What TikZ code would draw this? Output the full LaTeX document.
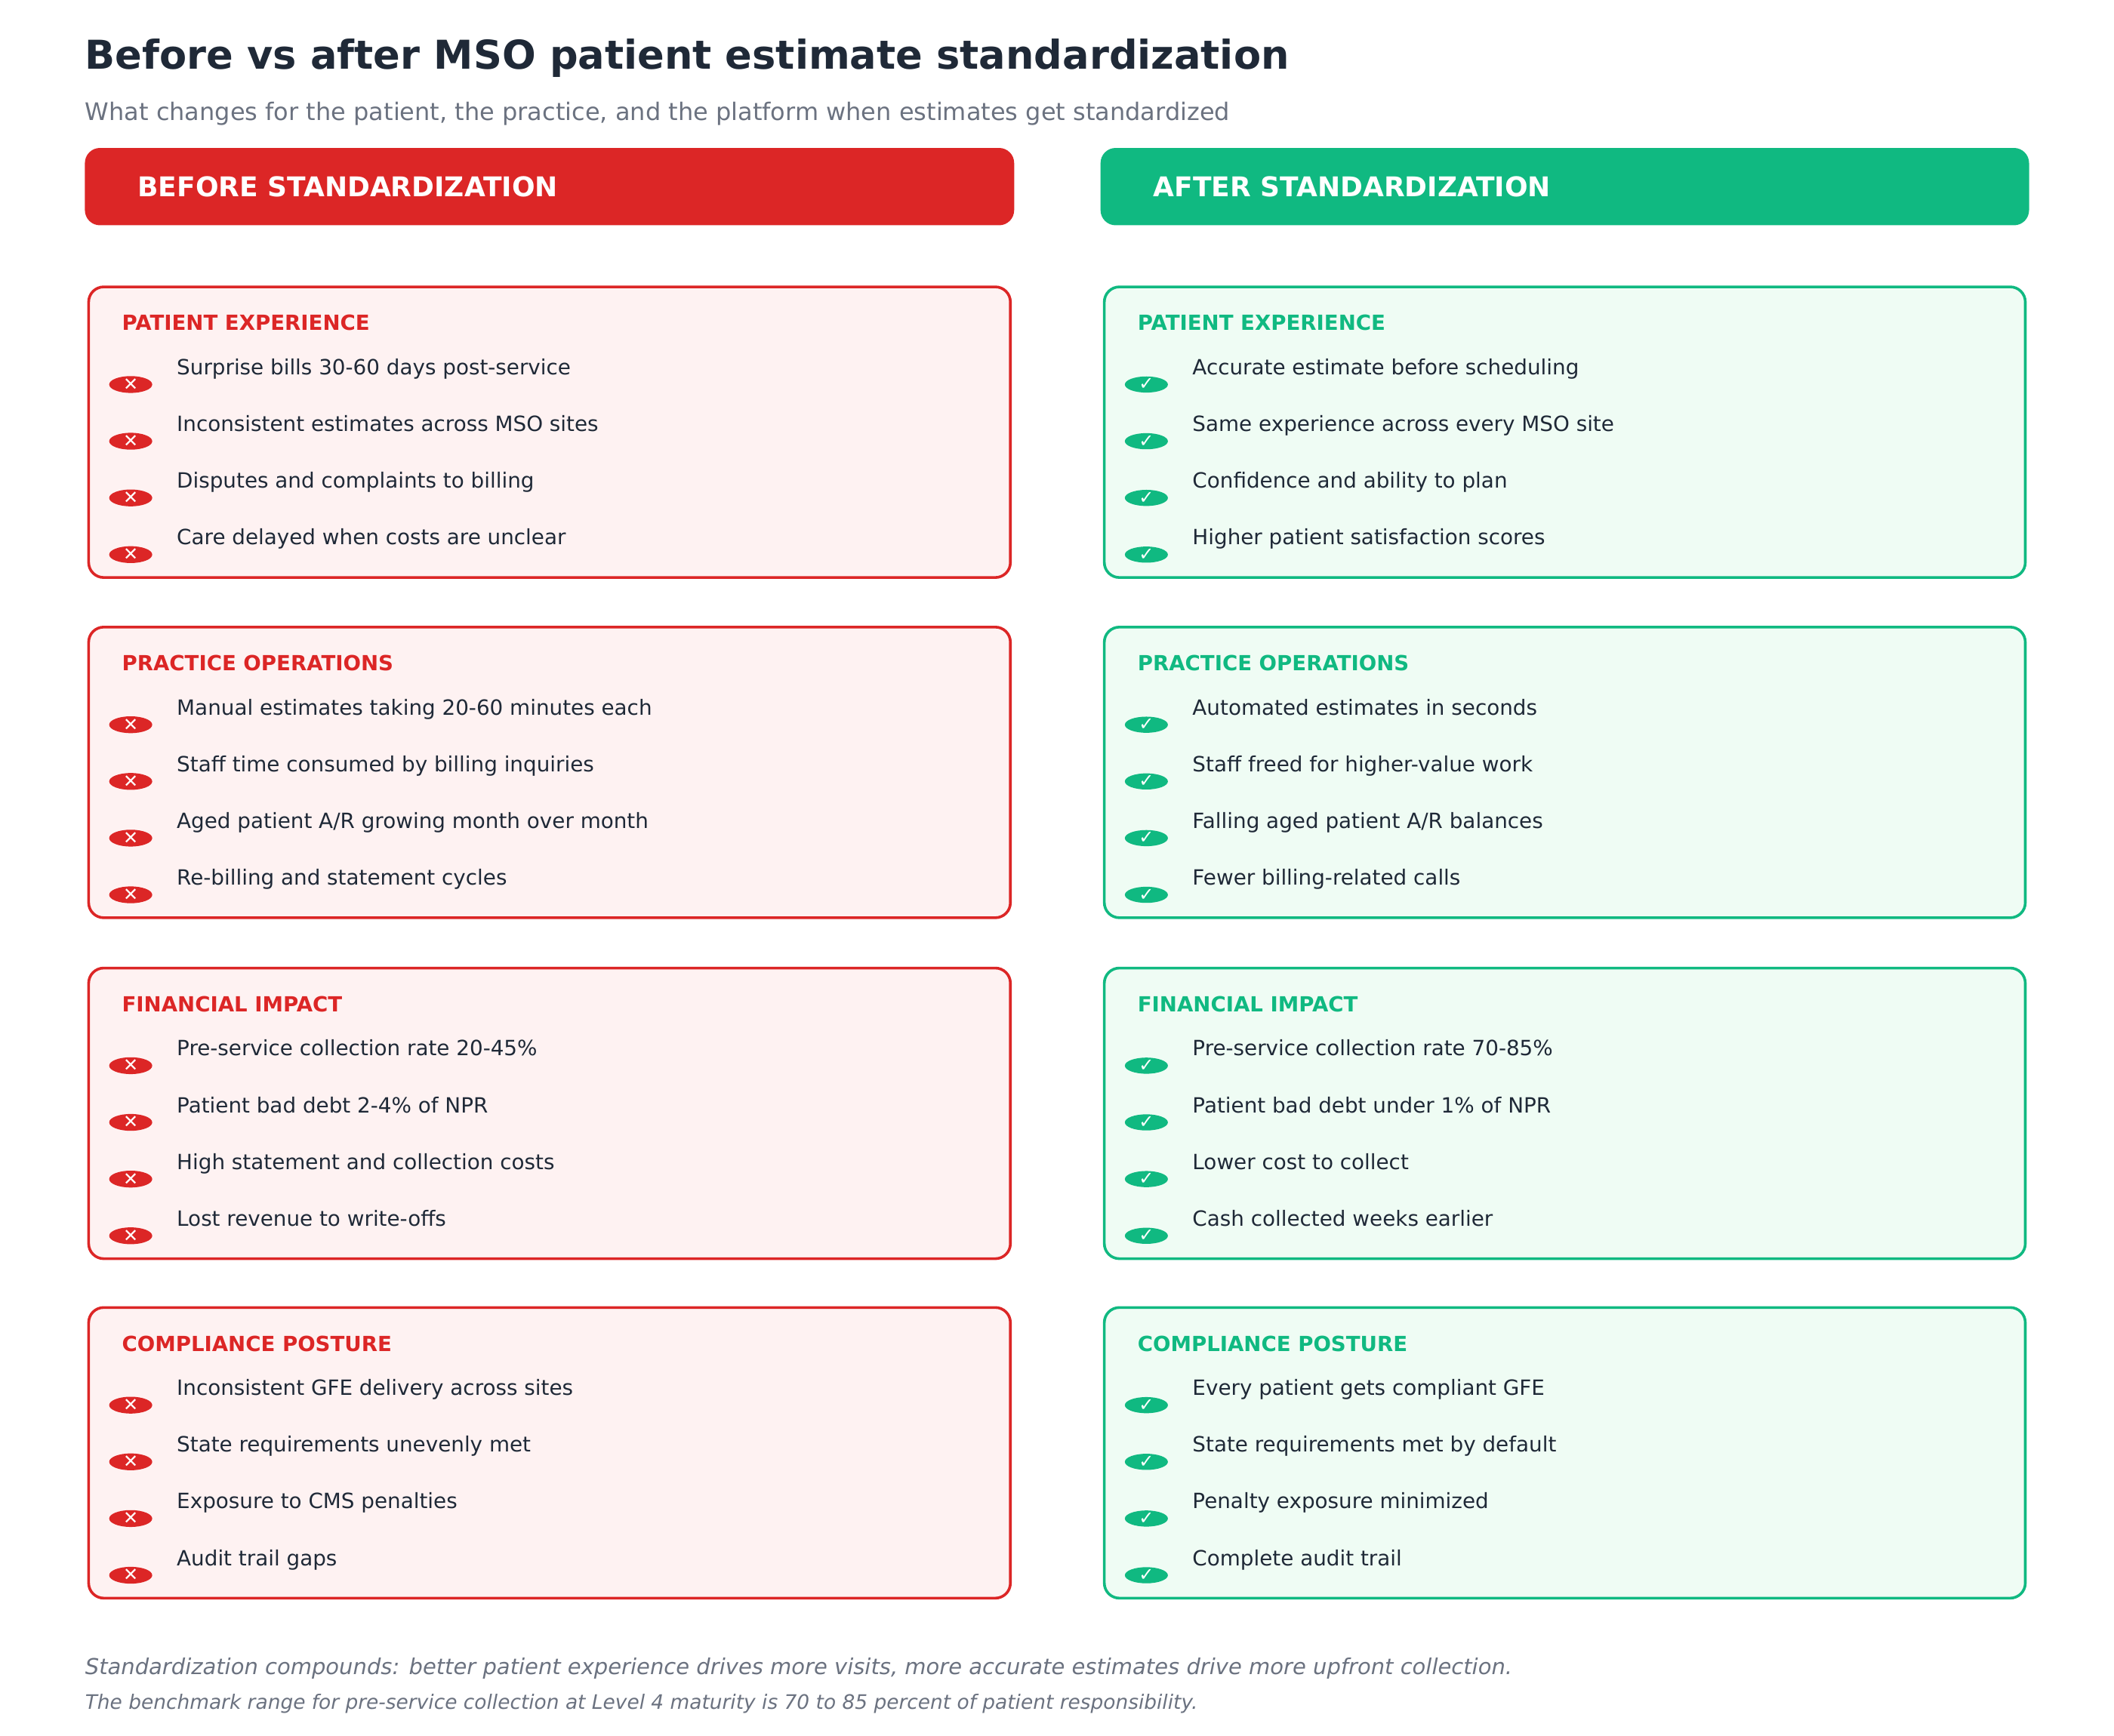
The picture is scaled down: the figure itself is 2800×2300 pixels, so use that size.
\documentclass[tikz,border=0pt]{standalone}
\usepackage{fontspec}
\setmainfont{DejaVu Sans}
\usetikzlibrary{shapes.geometric}
\definecolor{bad}{HTML}{DC2626}
\definecolor{good}{HTML}{10B981}
\definecolor{badbg}{HTML}{FEF2F2}
\definecolor{goodbg}{HTML}{EFFCF4}
\definecolor{ink}{HTML}{1F2937}
\definecolor{muted}{HTML}{6B7280}
\tikzset{
  hdr/.style={rounded corners=10pt,inner sep=0pt},
  panel/.style={rounded corners=10pt,line width=1.8pt,inner sep=0pt},
  cattitle/.style={anchor=base west,font=\fontsize{13.8}{16}\selectfont\bfseries,inner sep=0pt},
  itemtxt/.style={anchor=base west,font=\fontsize{13.9}{16}\selectfont,text=ink,inner sep=0pt},
  icon/.style={ellipse,minimum width=28.5pt,minimum height=10.5pt,inner sep=0pt,text=white,font=\fontsize{12}{12}\selectfont}
}
\begin{document}
\begin{tikzpicture}[x=0.5pt,y=-0.5pt]
\useasboundingbox (0,0) rectangle (2800,2300);
\fill[white] (0,0) rectangle (2800,2300);
\begin{scope}[scale=0.995]
\node[anchor=base west,inner sep=0pt,font=\fontsize{26.3}{30}\selectfont\bfseries,text=ink] (title) at (113,92) {Before vs after MSO patient estimate standardization};
\node[anchor=base west,inner sep=0pt,font=\fontsize{16}{18}\selectfont,text=muted] (sub) at (113,160) {What changes for the patient, the practice, and the platform when estimates get standardized};
\fill[bad,hdr] (113,197) rectangle (1350,300);
\fill[good,hdr] (1465,197) rectangle (2701,300);
\node[anchor=west,inner sep=0pt,text=white,font=\fontsize{18}{20}\selectfont\bfseries] (hb) at (183,248.5) {BEFORE STANDARDIZATION};
\node[anchor=west,inner sep=0pt,text=white,font=\fontsize{18}{20}\selectfont\bfseries] (ha) at (1535,248.5) {AFTER STANDARDIZATION};
\foreach \t/\cat/\a/\b/\c/\d/\e/\f/\g/\h [count=\i from 0] in {
382/PATIENT EXPERIENCE/Surprise bills 30-60 days post-service/Inconsistent estimates across MSO sites/Disputes and complaints to billing/Care delayed when costs are unclear/Accurate estimate before scheduling/Same experience across every MSO site/Confidence and ability to plan/Higher patient satisfaction scores,
835/PRACTICE OPERATIONS/Manual estimates taking 20-60 minutes each/Staff time consumed by billing inquiries/Aged patient A\slash R growing month over month/Re-billing and statement cycles/Automated estimates in seconds/Staff freed for higher-value work/Falling aged patient A\slash R balances/Fewer billing-related calls,
1289/FINANCIAL IMPACT/Pre-service collection rate 20-45\%/Patient bad debt 2-4\% of NPR/High statement and collection costs/Lost revenue to write-offs/Pre-service collection rate 70-85\%/Patient bad debt under 1\% of NPR/Lower cost to collect/Cash collected weeks earlier,
1741/COMPLIANCE POSTURE/Inconsistent GFE delivery across sites/State requirements unevenly met/Exposure to CMS penalties/Audit trail gaps/Every patient gets compliant GFE/State requirements met by default/Penalty exposure minimized/Complete audit trail}{
  \draw[panel,draw=bad,fill=badbg] (118,\t) rectangle (1345,\t+387);
  \draw[panel,draw=good,fill=goodbg] (1470,\t) rectangle (2696,\t+387);
  \node[cattitle,text=bad] (bc\i) at (162,\t+58) {\cat};
  \node[cattitle,text=good] (ac\i) at (1514,\t+58) {\cat};
  \foreach \txt/\k in {\a/0,\b/1,\c/2,\d/3}{
    \node[itemtxt] (bt\i\k) at (235,\t+117+75.5*\k) {\txt};
    \node[icon,fill=bad] (bi\i\k) at (174,\t+130+75.5*\k) {✕};
  }
  \foreach \txt/\k in {\e/0,\f/1,\g/2,\h/3}{
    \node[itemtxt] (at\i\k) at (1587,\t+117+75.5*\k) {\txt};
    \node[icon,fill=good] (ai\i\k) at (1526,\t+130+75.5*\k) {✓};
  }
}
\node[anchor=base west,inner sep=0pt,font=\fontsize{14.5}{17}\selectfont\itshape,text=muted] (f1) at (113,2230) {Standardization compounds: better patient experience drives more visits, more accurate estimates drive more upfront collection.};
\node[anchor=base west,inner sep=0pt,font=\fontsize{13.2}{15}\selectfont\itshape,text=muted] (f2) at (113,2276) {The benchmark range for pre-service collection at Level 4 maturity is 70 to 85 percent of patient responsibility.};
\end{scope}
\end{tikzpicture}
\end{document}
